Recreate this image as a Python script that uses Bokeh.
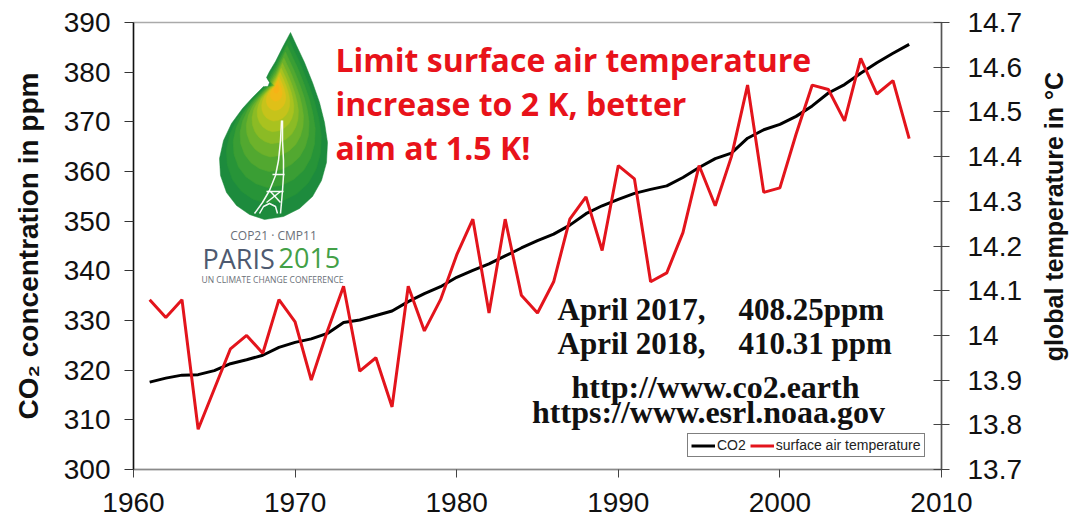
import math
from bokeh.plotting import figure
from bokeh.layouts import row
from bokeh.models import (Range1d, LinearAxis, FixedTicker, Label, Legend, LegendItem,
                          CustomJSTickFormatter)
from bokeh.embed import file_html
from bokeh.resources import INLINE

# ---------------- data ----------------
years = list(range(1961, 2009))
co2_ppm = [317.6, 318.4, 319.0, 319.1, 319.9, 321.3, 322.1, 323.0, 324.6, 325.6,
           326.3, 327.4, 329.6, 330.1, 331.0, 331.9, 333.8, 335.4, 336.8, 338.7,
           340.1, 341.4, 343.0, 344.6, 346.1, 347.4, 349.2, 351.5, 353.1, 354.4,
           355.6, 356.4, 357.1, 358.8, 360.8, 362.6, 363.7, 366.7, 368.4, 369.5,
           371.1, 373.2, 375.8, 377.5, 379.8, 381.9, 383.8, 385.6]
temp_c = [14.08, 14.04, 14.08, 13.79, 13.88, 13.97, 14.00, 13.96, 14.08, 14.03,
          13.90, 14.01, 14.11, 13.92, 13.95, 13.84, 14.11, 14.01, 14.08, 14.18,
          14.26, 14.05, 14.26, 14.09, 14.05, 14.12, 14.26, 14.31, 14.19, 14.38,
          14.35, 14.12, 14.14, 14.23, 14.38, 14.29, 14.40, 14.56, 14.32, 14.33,
          14.45, 14.56, 14.55, 14.48, 14.62, 14.54, 14.57, 14.44]
x_ticks = [1960, 1970, 1980, 1990, 2000, 2010]
co2_ticks = [300, 310, 320, 330, 340, 350, 360, 370, 380, 390]
temp_ticks = [13.7, 13.8, 13.9, 14.0, 14.1, 14.2, 14.3, 14.4, 14.5, 14.6, 14.7]

# ---------------- main figure ----------------
p = figure(width=1038, height=525, output_backend="svg", toolbar_location=None,
           x_range=Range1d(1960, 2010), y_range=Range1d(300, 390),
           min_border_left=133, min_border_right=97, min_border_top=22,
           min_border_bottom=56, background_fill_color="white",
           border_fill_color="white")
p.grid.visible = False
p.outline_line_color = "#aaaaaa"
p.outline_line_width = 1.5
p.extra_y_ranges = {"temp": Range1d(13.7, 14.7)}

TICK_FONT = "Liberation Sans"

# bottom axis
xa = p.xaxis[0]
xa.ticker = FixedTicker(ticks=x_ticks)
xa.minor_tick_line_color = None
xa.major_tick_in = 0
xa.major_tick_out = 8
xa.axis_line_color = "#8a8a8a"
xa.axis_line_width = 1.5
xa.major_tick_line_color = "#444444"
xa.major_label_text_font = TICK_FONT
xa.major_label_text_font_size = "28px"
xa.major_label_text_color = "#111111"
xa.major_label_standoff = 15

# left axis
ya = p.yaxis[0]
ya.ticker = FixedTicker(ticks=co2_ticks)
ya.minor_tick_line_color = None
ya.major_tick_in = 0
ya.major_tick_out = 9
ya.axis_line_color = "#111111"
ya.axis_line_width = 1.5
ya.major_tick_line_color = "#333333"
ya.major_label_text_font = TICK_FONT
ya.major_label_text_font_size = "28px"
ya.major_label_text_color = "#111111"
ya.major_label_standoff = 14
ya.axis_label = "CO₂ concentration in ppm"
ya.axis_label_text_font = TICK_FONT
ya.axis_label_text_font_style = "bold"
ya.axis_label_text_font_size = "28px"
ya.axis_label_text_color = "#111111"
ya.axis_label_standoff = 17

# right axis (ticks and tick labels; its title is drawn in the side strip)
ra = LinearAxis(y_range_name="temp")
ra.ticker = FixedTicker(ticks=temp_ticks)
ra.formatter = CustomJSTickFormatter(code="var s = tick.toFixed(1); return s.endsWith('.0') ? s.slice(0, -2) : s;")
ra.minor_tick_line_color = None
ra.major_tick_in = 8
ra.major_tick_out = 8
ra.axis_line_color = "#555555"
ra.axis_line_width = 1.5
ra.major_tick_line_color = "#444444"
ra.major_label_text_font = TICK_FONT
ra.major_label_text_font_size = "28px"
ra.major_label_text_color = "#111111"
ra.major_label_standoff = 18
p.add_layout(ra, "right")

# ---------------- helpers for decoration placement (reference pixel -> data) ----------------
def dx(px):
    return 1960 + (px - 133) * 50.0 / (941 - 133)

def dy(py):
    return 390 - (py - 22) * 90.0 / (469 - 22)

KMID = {"Open Sans": 0.388, "Liberation Serif": 0.338, "Liberation Sans": 0.347}

def label(text, xpx, base_px, size, font, color, align="left", style="normal"):
    p.add_layout(Label(x=dx(xpx), y=dy(base_px - KMID[font] * size), text=text,
                       text_align=align, text_baseline="middle", text_font=font,
                       text_font_style=style, text_font_size=f"{size}px",
                       text_color=color))

# ---------------- Paris logo (decoration) ----------------
leaf_px = [(290, 32), (296, 45), (304, 62), (312, 82), (319, 102), (324, 122), (327, 142),
           (326, 162), (321, 180), (312, 196), (299, 208), (283, 216), (264, 219),
           (249, 214), (236, 205), (226, 192), (220, 175), (219, 158), (223, 140),
           (231, 123), (242, 108), (252, 97), (259, 90), (263, 86), (267, 87), (269, 82),
           (266, 77), (269, 71), (275, 61), (282, 47)]
anchor = (276, 86)
shades = [(1.00, "#1d8b3d"), (0.88, "#279438"), (0.76, "#3a9e34"), (0.64, "#52a830"),
          (0.53, "#6db22b"), (0.43, "#8bbb25"), (0.34, "#a9c21f"), (0.26, "#c6c31b"),
          (0.18, "#dfc018"), (0.11, "#f0b917"), (0.05, "#f7b216")]
for f, c in shades:
    xs = [dx(anchor[0] + (a - anchor[0]) * f) for a, b in leaf_px]
    ys = [dy(anchor[1] + (b - anchor[1]) * f) for a, b in leaf_px]
    p.patch(xs, ys, fill_color=c, line_color=c, line_width=0.5)

tower_px = [
    [(281, 120), (280, 140), (278, 160), (275, 175), (269, 190), (262, 202), (254, 213)],
    [(282, 120), (282, 140), (283, 160), (283, 175), (282, 190), (281, 202), (280, 213)],
    [(272, 174), (284, 174)],
    [(266, 191), (283, 191)],
    [(259, 213), (263, 206), (269, 203), (275, 206), (277, 213)],
    [(270, 191), (280, 202)], [(280, 191), (266, 202)],
]
p.multi_line([[dx(a) for a, b in seg] for seg in tower_px],
             [[dy(b) for a, b in seg] for seg in tower_px],
             line_color="white", line_width=1.5, line_alpha=0.95)

label("COP21 · CMP11", 273, 240, 12, "Open Sans", "#6a6f78", align="center")
label("PARIS", 202, 268, 27, "Open Sans", "#4e5a70")
label("2015", 278, 268, 27, "Open Sans", "#43a047")
label("UN CLIMATE CHANGE CONFERENCE", 272, 282, 8.5, "Open Sans", "#6a6f78", align="center")

# ---------------- data lines ----------------
r_co2 = p.line(years, co2_ppm, line_color="black", line_width=3)
r_temp = p.line(years, temp_c, line_color="#e3141c", line_width=3, y_range_name="temp")

# ---------------- annotations ----------------
red_lines = ["Limit surface air temperature", "increase to 2 K,  better", "aim at 1.5 K!"]
for i, t in enumerate(red_lines):
    label(t, 335, 71 + 44 * i, 32, "Open Sans", "#e8121a", style="bold")

label("April 2017,", 557, 319, 31, "Liberation Serif", "#111111", style="bold")
label("408.25ppm", 738, 319, 31, "Liberation Serif", "#111111", style="bold")
label("April 2018,", 557, 353, 31, "Liberation Serif", "#111111", style="bold")
label("410.31 ppm", 738, 353, 31, "Liberation Serif", "#111111", style="bold")
label("http://www.co2.earth", 715, 397, 32, "Liberation Serif", "#111111",
      align="center", style="bold")
label("https://www.esrl.noaa.gov", 708, 422, 32, "Liberation Serif", "#111111",
      align="center", style="bold")

# ---------------- legend ----------------
legend = Legend(items=[LegendItem(label="CO2", renderers=[r_co2]),
                       LegendItem(label="surface air temperature", renderers=[r_temp])],
                orientation="horizontal", location=(554, 12))
legend.label_text_font = TICK_FONT
legend.label_text_font_size = "14px"
legend.label_text_color = "#222222"
legend.glyph_width = 24
legend.glyph_height = 15
legend.label_height = 15
legend.label_standoff = 2
legend.spacing = 4
legend.padding = 3
legend.margin = 0
legend.border_line_color = "black"
legend.border_line_width = 1.2
legend.background_fill_alpha = 1.0
p.add_layout(legend, "center")

# ---------------- side strip carrying the right axis title ----------------
side_w = 1070 - 1038
p2 = figure(width=side_w, height=525, output_backend="svg", toolbar_location=None,
            x_range=Range1d(0, side_w), y_range=Range1d(0, 525),
            min_border=0, background_fill_color="white", border_fill_color="white")
p2.axis.visible = False
p2.grid.visible = False
p2.outline_line_color = None
p2.add_layout(Label(x=1053 - 1038, y=525 - 228, text="global temperature in °C",
                    angle=math.pi / 2, text_align="center", text_baseline="middle",
                    text_font=TICK_FONT, text_font_style="bold", text_font_size="25px",
                    text_color="#111111"))

layout = row(p, p2, spacing=0)
open("out.html", "w").write(file_html(layout, INLINE))
